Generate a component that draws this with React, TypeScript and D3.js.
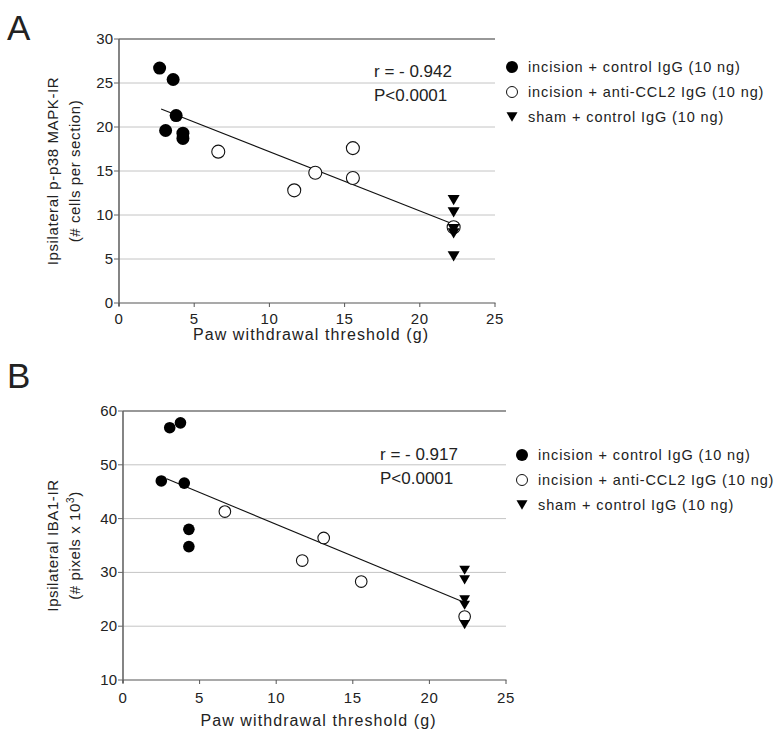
import React from "react";
import * as d3 from "d3";

// panel A: p-p38 MAPK-IR vs paw withdrawal threshold
const aControl = [[2.7, 26.7], [3.6, 25.4], [3.8, 21.3], [3.1, 19.6], [4.25, 19.3], [4.25, 18.7]];
const aAnti = [[6.6, 17.2], [11.65, 12.8], [13.05, 14.8], [15.55, 17.6], [15.55, 14.2], [22.25, 8.6]];
const aSham = [[22.25, 11.7], [22.25, 10.3], [22.25, 8.4], [22.25, 7.9], [22.25, 5.3]];
const aFit = [[2.8, 22.05], [22.25, 8.95]];
const aYTicks = [0, 5, 10, 15, 20, 25, 30];

// panel B: IBA1-IR
const bControl = [[3.05, 56.9], [3.75, 57.8], [2.5, 47.0], [4.0, 46.6], [4.3, 38.0], [4.3, 34.8]];
const bAnti = [[6.65, 41.3], [11.7, 32.2], [13.1, 36.4], [15.55, 28.3], [22.3, 21.8]];
const bSham = [[22.3, 30.4], [22.3, 28.6], [22.3, 24.9], [22.3, 23.9], [22.3, 20.3]];
const bFit = [[2.85, 47.4], [22.3, 24.4]];
const bYTicks = [10, 20, 30, 40, 50, 60];

const xTicks = [0, 5, 10, 15, 20, 25];
const legendLabels = [
  "incision + control IgG (10 ng)",
  "incision + anti-CCL2 IgG (10 ng)",
  "sham + control IgG (10 ng)",
];

const font = "'Liberation Sans', Arial, sans-serif";

const tri = (cx, cy, w) => {
  const h = w * 0.85;
  return `M${cx - w / 2},${cy - h / 2}L${cx + w / 2},${cy - h / 2}L${cx},${cy + h / 2}Z`;
};

const Panel = ({ letter, letterY, x0, x1, y0, y1, yDomain, yTicks, control, anti, sham, fit, rText, rX, rY, legX, legY, title1, title2, sup, r, tickDy, titleDy }) => {
  const x = d3.scaleLinear().domain([0, 25]).range([x0, x1]);
  const y = d3.scaleLinear().domain(yDomain).range([y0, y1]);
  const line = d3.line().x((d) => x(d[0])).y((d) => y(d[1]));
  const top = yDomain[1];
  const midY = (y0 + y1) / 2;
  return (
    <g fontFamily={font}>
      <text x={7} y={letterY} fontSize={35} fill="#222">{letter}</text>
      {yTicks.filter((t) => t !== yDomain[0] && t !== top).map((t) => (
        <line key={t} x1={x0} x2={x1} y1={y(t)} y2={y(t)} stroke="#c4c4c4" strokeWidth={1} />
      ))}
      <line x1={x0} x2={x1} y1={y(top)} y2={y(top)} stroke="#333" strokeWidth={1.2} />
      <line x1={x0} x2={x1 + 0.5} y1={y0} y2={y0} stroke="#555" strokeWidth={1.2} />
      <line x1={x0} x2={x0} y1={y0 + 3} y2={y1} stroke="#666" strokeWidth={1.6} />
      {yTicks.map((t) => (
        <g key={t}>
          <line x1={x0 - 5} x2={x0} y1={y(t)} y2={y(t)} stroke="#666" />
          <text x={x0 - 6} y={y(t) + 5} fontSize={15} textAnchor="end" fill="#222">{t}</text>
        </g>
      ))}
      {xTicks.map((t) => (
        <g key={t}>
          <line x1={x(t)} x2={x(t)} y1={y0} y2={y0 + 4} stroke="#555" />
          <text x={x(t)} y={y0 + tickDy} fontSize={15} textAnchor="middle" fill="#222" letterSpacing={0.6}>{t}</text>
        </g>
      ))}
      <text x={(x0 + x1) / 2 + 4} y={y0 + titleDy} fontSize={16} textAnchor="middle" letterSpacing={1.1} fill="#222">
        Paw withdrawal threshold (g)
      </text>
      <text transform={`translate(58,${midY}) rotate(-90)`} fontSize={15} textAnchor="middle" letterSpacing={0.6} fill="#222">
        {title1}
      </text>
      <text transform={`translate(80,${midY}) rotate(-90)`} fontSize={15} textAnchor="middle" letterSpacing={0.6} fill="#222">
        {title2}
        {sup && <tspan dy={-6} fontSize={10}>3</tspan>}
        {sup && <tspan dy={6}>)</tspan>}
      </text>
      <path d={line(fit)} stroke="#111" strokeWidth={1.1} fill="none" />
      {anti.map((d, i) => (
        <circle key={i} cx={x(d[0])} cy={y(d[1])} r={r} fill="#fff" stroke="#111" strokeWidth={1.1} />
      ))}
      {control.map((d, i) => (
        <circle key={i} cx={x(d[0])} cy={y(d[1])} r={r} fill="#000" />
      ))}
      {sham.map((d, i) => (
        <path key={i} d={tri(x(d[0]), y(d[1]), r * 1.85)} fill="#000" />
      ))}
      <text x={rX} y={rY} fontSize={17} fill="#222">{rText}</text>
      <text x={rX} y={rY + 24} fontSize={17} fill="#222">P&lt;0.0001</text>
      {legendLabels.map((l, i) => (
        <g key={l}>
          {i === 0 && <circle cx={legX} cy={legY + i * 25} r={6} fill="#000" />}
          {i === 1 && <circle cx={legX} cy={legY + i * 25} r={5.5} fill="#fff" stroke="#111" />}
          {i === 2 && <path d={tri(legX, legY + i * 25, 11)} fill="#000" />}
          <text x={legX + 16} y={legY + i * 25 + 5} fontSize={14.5} letterSpacing={0.9} fill="#222">{l}</text>
        </g>
      ))}
    </g>
  );
};

export default function App() {
  return (
    <svg width={780} height={742} style={{ position: "absolute", left: 0, top: 0, background: "#fff" }}>
      <Panel letter="A" letterY={40} x0={119} x1={495} y0={303} y1={39} yDomain={[0, 30]} yTicks={aYTicks}
        control={aControl} anti={aAnti} sham={aSham} fit={aFit} rText="r = - 0.942" rX={374} rY={77}
        legX={512} legY={67} title1="Ipsilateral p-p38 MAPK-IR" title2="(# cells per section)" sup={false} r={6.5}
        tickDy={21} titleDy={37} />
      <Panel letter="B" letterY={388} x0={123} x1={506} y0={680} y1={411} yDomain={[10, 60]} yTicks={bYTicks}
        control={bControl} anti={bAnti} sham={bSham} fit={bFit} rText="r = - 0.917" rX={380} rY={460}
        legX={522} legY={455} title1="Ipsilateral IBA1-IR" title2="(# pixels x 10" sup={true} r={5.8}
        tickDy={23} titleDy={46} />
    </svg>
  );
}
